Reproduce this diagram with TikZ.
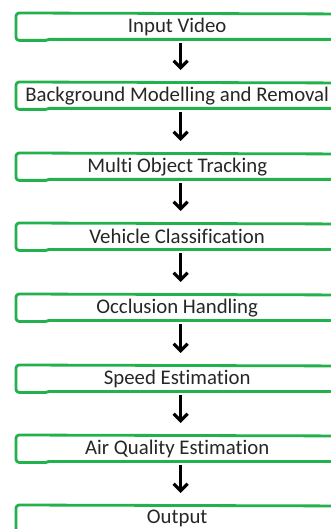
\documentclass[tikz,border=0pt]{standalone}
\usepackage{fontspec}
\setmainfont{Carlito}[Ligatures=NoCommon]
\usetikzlibrary{arrows.meta}
\definecolor{paintgreen}{RGB}{34,177,76}
\definecolor{ink}{RGB}{38,38,38}
\begin{document}
\begin{tikzpicture}[x=1pt,y=-1pt,
  stage/.style={minimum width=322pt, minimum height=27pt, inner sep=0pt,
    anchor=north west, font=\fontsize{20.8}{23}\selectfont, text=ink},
  outline/.style={draw=paintgreen, line width=2.8pt, line join=round,
    line cap=round, rounded corners=1pt},
  flow/.style={line width=3.2pt, -{Straight Barb[length=7pt,width=14pt]},
    shorten <=3pt, shorten >=12pt}]
\useasboundingbox (0,0) rectangle (331,529);

% pipeline stages
\node[stage] (input)          at (16,13)  {Input Video};
\node[stage] (background)     at (16,82)  {Background Modelling and Removal};
\node[stage] (tracking)       at (16,153) {Multi Object Tracking};
\node[stage] (classification) at (16,223) {Vehicle Classification};
\node[stage] (occlusion)      at (16,294) {Occlusion Handling};
\node[stage] (speed)          at (16,365) {Speed Estimation};
\node[stage] (airquality)     at (16,435) {Air Quality Estimation};
\node[stage] (output)         at (16,505) {Output};

% hand-drawn green frames, open past the right edge
\foreach \n in {input,background,tracking,classification,occlusion,speed,airquality,output}{
  \draw[outline]
    ([xshift=340pt,yshift=-1pt]\n.north west)
    -- ([xshift=2pt]\n.north west)
    -- ([yshift=-2pt]\n.north west)
    -- ([yshift=2pt]\n.south west)
    -- ([xshift=2pt]\n.south west)
    -- ([xshift=31pt]\n.south west)
    -- ([xshift=32pt,yshift=1pt]\n.south west)
    -- ([xshift=340pt,yshift=1pt]\n.south west);
}

% arrows between stages
\foreach \a/\b in {input/background,background/tracking,tracking/classification,
  classification/occlusion,occlusion/speed,speed/airquality,airquality/output}{
  \draw[flow] ([xshift=3.5pt]\a.south) -- ([xshift=3.5pt]\b.north);
}
\end{tikzpicture}
\end{document}
